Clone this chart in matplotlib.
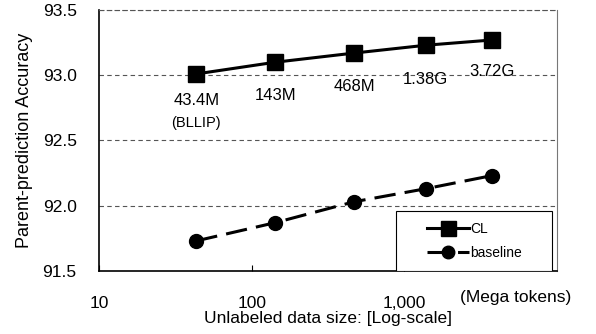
import matplotlib
matplotlib.use("Agg")
import matplotlib.pyplot as plt
from matplotlib.patches import Rectangle

# data
sizes = [43.4, 143, 468, 1380, 3720]   # mega tokens
size_labels = ["43.4M", "143M", "468M", "1.38G", "3.72G"]
cl_acc = [93.01, 93.10, 93.17, 93.23, 93.27]
baseline_acc = [91.73, 91.87, 92.03, 92.13, 92.23]

x_ticks = [10, 100, 1000]
x_tick_labels = ["10", "100", "1,000"]
y_ticks = [91.5, 92.0, 92.5, 93.0, 93.5]

plt.rcParams['font.family'] = ['Liberation Sans', 'DejaVu Sans']

fig, ax = plt.subplots(figsize=(5.96, 3.34), dpi=100)
fig.subplots_adjust(left=0.166, right=0.935, top=0.97, bottom=0.189)

# dashed gridlines on the y ticks
for y in y_ticks[1:]:
    ax.axhline(y, color="#555555", linestyle=(0, (4, 3)), linewidth=0.8, zorder=1)

ax.plot(sizes, cl_acc, color="black", linewidth=2.2, marker="s", markersize=12,
        label="CL", zorder=3)
ax.plot(sizes, baseline_acc, color="black", linewidth=2.2, marker="o", markersize=10,
        dashes=(7, 3), label="baseline", zorder=3)

# size labels under the CL points
offsets = [-19, -24, -24, -25, -23]
for x, y, lab, off in zip(sizes, cl_acc, size_labels, offsets):
    ax.annotate(lab, (x, y), xytext=(0, off), textcoords="offset points",
                ha="center", va="center", fontsize=12)
ax.annotate("(BLLIP)", (sizes[0], cl_acc[0]), xytext=(0, -35),
            textcoords="offset points", ha="center", va="center", fontsize=10.5)

ax.set_xscale("log")
ax.set_xlim(10, 10000)
ax.set_ylim(91.5, 93.5)
ax.set_xticks(x_ticks)
ax.set_xticklabels(x_tick_labels)
ax.minorticks_off()
ax.set_yticks(y_ticks)
ax.set_yticklabels(["%.1f" % v for v in y_ticks])
ax.tick_params(axis="x", direction="in", length=4, labelsize=12.5, pad=18)
ax.tick_params(axis="y", length=0, labelsize=12.5, pad=16)

ax.text(0.91, -0.103, "(Mega tokens)", transform=ax.transAxes,
        ha="center", va="center", fontsize=12.5)

ax.set_xlabel("Unlabeled data size: [Log-scale]", fontsize=12.5, labelpad=0)
ax.set_ylabel("Parent-prediction Accuracy", fontsize=13, labelpad=7)

ax.spines["left"].set_linewidth(1.2)
ax.spines["bottom"].set_linewidth(1.2)
ax.spines["right"].set_color("#777777")
ax.spines["top"].set_color("#555555")
ax.spines["top"].set_linestyle((0, (4, 3)))
ax.spines["top"].set_linewidth(0.8)

# legend: frame drawn as a box, entries centred inside
ax.add_patch(Rectangle((0.648, 0.0), 0.341, 0.23, transform=ax.transAxes,
                       facecolor="white", edgecolor="black", linewidth=0.8, zorder=4))
leg = ax.legend(loc="center", bbox_to_anchor=(0.82, 0.115), fontsize=10,
                frameon=False, markerscale=0.9, handlelength=3.0,
                labelspacing=0.7, handletextpad=0.1)
leg.set_zorder(5)

fig.savefig("out.png", dpi=100)
